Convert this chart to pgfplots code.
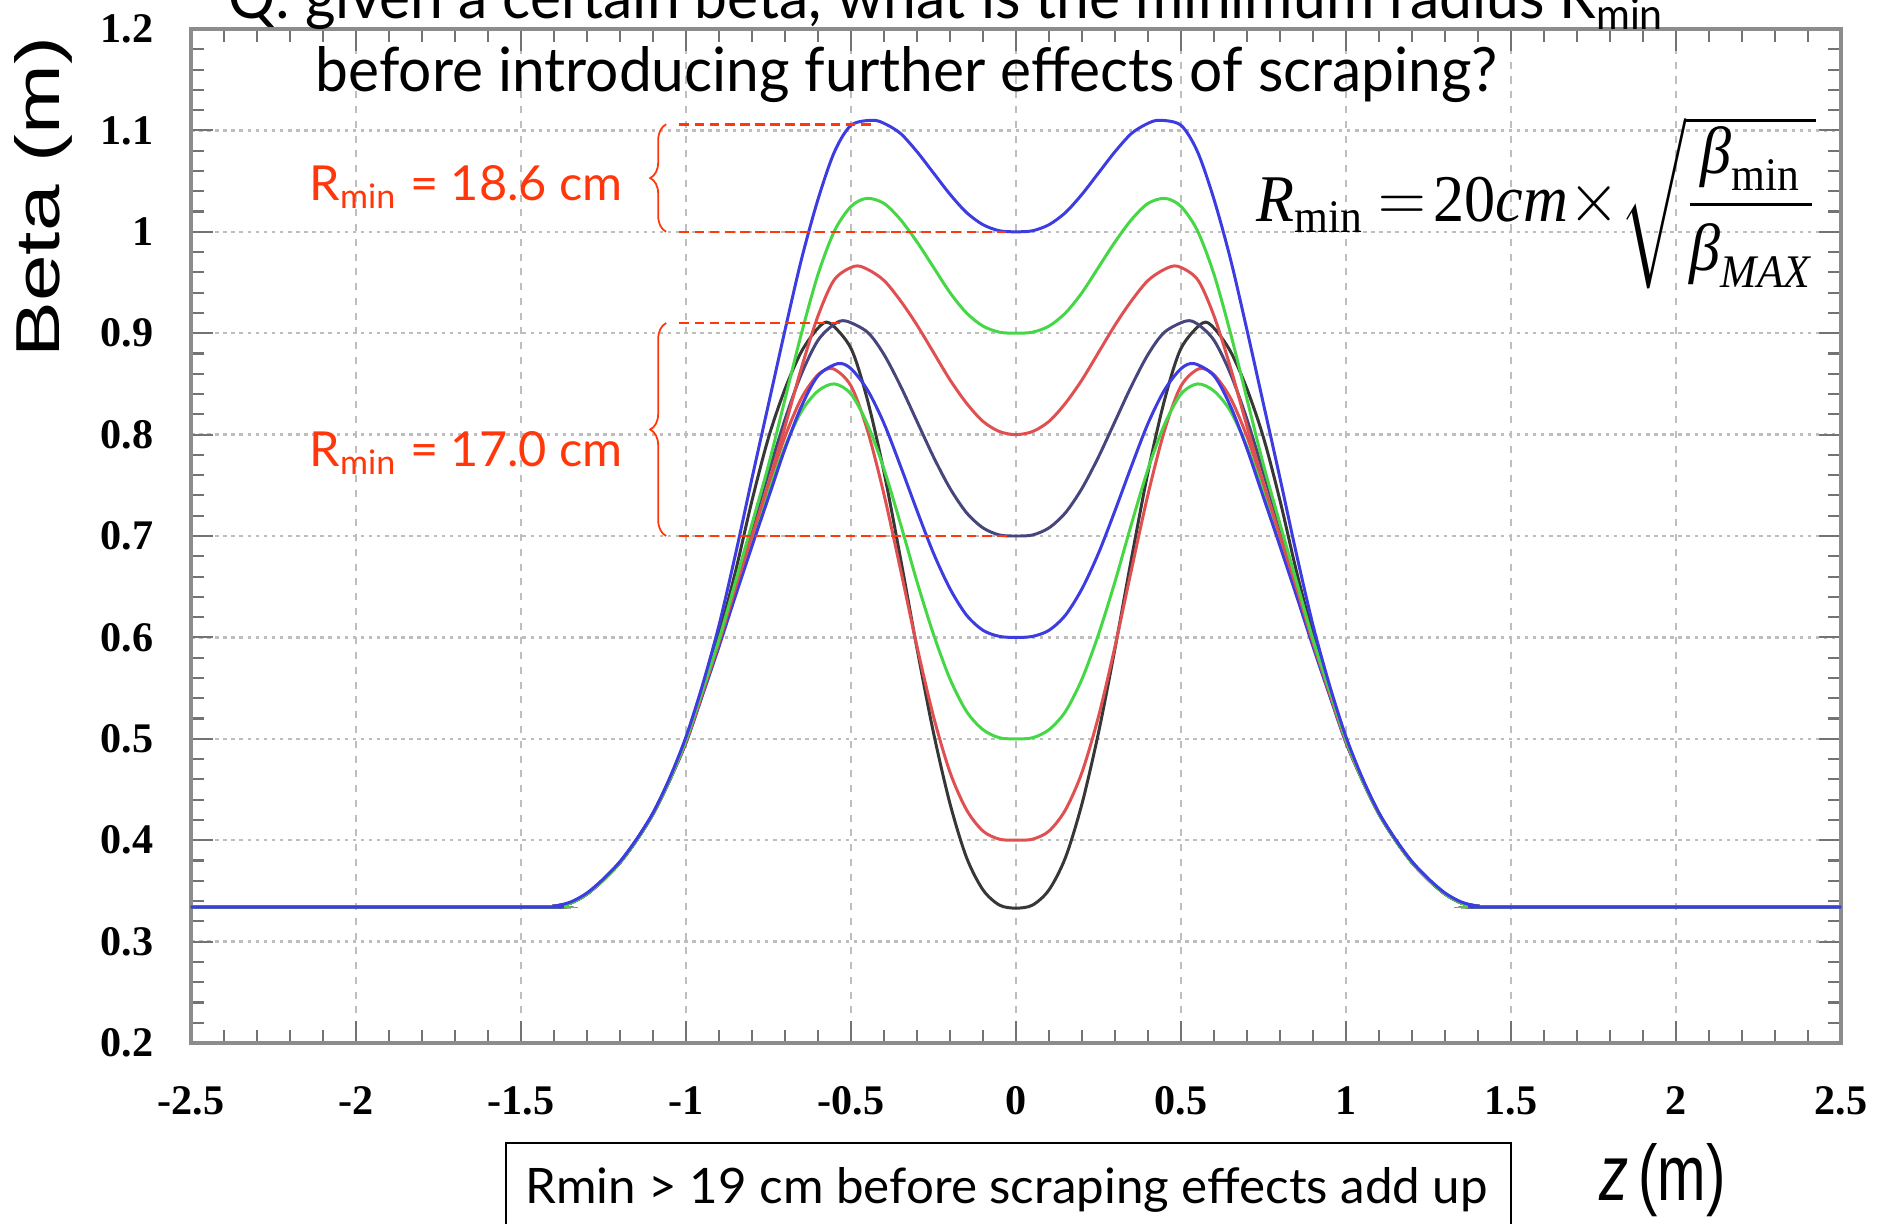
\documentclass[border=0pt]{standalone}
\usepackage{fontspec}
\usepackage{amsmath}
\usepackage{graphicx}
\usepackage{pgfplots}
\pgfplotsset{compat=1.18}
\usetikzlibrary{decorations.pathreplacing}
\setmainfont{Lato}
\newfontfamily\tms{Liberation Serif}
\newfontfamily\hel{Liberation Sans}
\definecolor{cb}{RGB}{60,60,225}
\definecolor{cg}{RGB}{70,215,70}
\definecolor{cr}{RGB}{225,80,80}
\definecolor{cn}{RGB}{70,70,125}
\definecolor{ck}{RGB}{55,55,55}
\definecolor{ann}{RGB}{255,55,10}
\definecolor{gridc}{RGB}{190,190,190}
\begin{document}
\begin{tikzpicture}
\useasboundingbox (-1.91,-1.80) rectangle (16.94,10.43);
\clip (-1.91,-1.80) rectangle (16.94,10.43);
\begin{axis}[
  at={(0,0)}, anchor=south west, scale only axis,
  width=16.5cm, height=10.14cm,
  xmin=-2.5, xmax=2.5, ymin=0.2, ymax=1.2,
  xtick={-2.5,-2,-1.5,-1,-0.5,0,0.5,1,1.5,2,2.5},
  xticklabels={-2.5,-2,-1.5,-1,-0.5,0,0.5,1,1.5,2,2.5},
  ytick={0.2,0.3,0.4,0.5,0.6,0.7,0.8,0.9,1,1.1,1.2},
  yticklabels={0.2,0.3,0.4,0.5,0.6,0.7,0.8,0.9,1,1.1,1.2},
  minor x tick num=4, minor y tick num=4,
  major tick length=0.22cm, minor tick length=0.13cm,
  tick style={black!55, line width=0.6pt},
  axis line style={black!45, line width=1.3pt},
  tick label style={font=\tms\bfseries\fontsize{12}{12}\selectfont, text=black},
  xticklabel style={inner sep=0pt, anchor=north, yshift=-0.43cm},
  yticklabel style={inner sep=0pt, anchor=east, xshift=-0.37cm},
  xmajorgrids, ymajorgrids,
  x grid style={gridc, line width=0.6pt, dash pattern=on 2pt off 2.2pt},
  y grid style={gridc, line width=0.7pt, dash pattern=on 1pt off 1.3pt},
  every axis plot/.append style={smooth, no marks, line width=0.85pt},
]
% black (min 0.333)
\addplot[ck] coordinates {(-2.5,0.334)(-1.45,0.334)(-1.4,0.335)(-1.35,0.338)(-1.3,0.347)(-1.25,0.361)(-1.2,0.378)(-1.15,0.400)(-1.1,0.426)(-1.05,0.459)(-1,0.500)(-0.95,0.550)(-0.9,0.603)(-0.85,0.665)(-0.8,0.735)(-0.75,0.797)(-0.7,0.845)(-0.65,0.882)(-0.6,0.905)(-0.565,0.910)(-0.5,0.885)(-0.45,0.834)(-0.4,0.763)(-0.35,0.678)(-0.3,0.589)(-0.25,0.506)(-0.2,0.436)(-0.15,0.383)(-0.1,0.351)(-0.05,0.336)(0,0.333)(0.05,0.336)(0.1,0.351)(0.15,0.383)(0.2,0.436)(0.25,0.506)(0.3,0.589)(0.35,0.678)(0.4,0.763)(0.45,0.834)(0.5,0.885)(0.565,0.910)(0.6,0.905)(0.65,0.882)(0.7,0.845)(0.75,0.797)(0.8,0.735)(0.85,0.665)(0.9,0.603)(0.95,0.550)(1,0.500)(1.05,0.459)(1.1,0.426)(1.15,0.400)(1.2,0.378)(1.25,0.361)(1.3,0.347)(1.35,0.338)(1.4,0.335)(1.45,0.334)(2.5,0.334)};
% red (min 0.4)
\addplot[cr] coordinates {(-2.5,0.334)(-1.45,0.334)(-1.4,0.335)(-1.35,0.338)(-1.3,0.347)(-1.25,0.361)(-1.2,0.378)(-1.15,0.400)(-1.1,0.426)(-1.05,0.459)(-1,0.497)(-0.95,0.545)(-0.9,0.594)(-0.85,0.648)(-0.8,0.700)(-0.75,0.750)(-0.7,0.798)(-0.65,0.836)(-0.6,0.859)(-0.555,0.865)(-0.5,0.848)(-0.45,0.804)(-0.4,0.741)(-0.35,0.667)(-0.3,0.591)(-0.25,0.522)(-0.2,0.467)(-0.15,0.430)(-0.1,0.409)(-0.05,0.401)(0,0.400)(0.05,0.401)(0.1,0.409)(0.15,0.430)(0.2,0.467)(0.25,0.522)(0.3,0.591)(0.35,0.667)(0.4,0.741)(0.45,0.804)(0.5,0.848)(0.555,0.865)(0.6,0.859)(0.65,0.836)(0.7,0.798)(0.75,0.750)(0.8,0.700)(0.85,0.648)(0.9,0.594)(0.95,0.545)(1,0.497)(1.05,0.459)(1.1,0.426)(1.15,0.400)(1.2,0.378)(1.25,0.361)(1.3,0.347)(1.35,0.338)(1.4,0.335)(1.45,0.334)(2.5,0.334)};
% green (min 0.5)
\addplot[cg] coordinates {(-2.5,0.334)(-1.45,0.334)(-1.4,0.335)(-1.35,0.338)(-1.3,0.347)(-1.25,0.361)(-1.2,0.378)(-1.15,0.400)(-1.1,0.426)(-1.05,0.459)(-1,0.497)(-0.95,0.544)(-0.9,0.592)(-0.85,0.645)(-0.8,0.695)(-0.75,0.743)(-0.7,0.788)(-0.65,0.823)(-0.6,0.843)(-0.55,0.850)(-0.5,0.840)(-0.45,0.810)(-0.4,0.766)(-0.35,0.712)(-0.3,0.655)(-0.25,0.603)(-0.2,0.559)(-0.15,0.527)(-0.1,0.509)(-0.05,0.501)(0,0.500)(0.05,0.501)(0.1,0.509)(0.15,0.527)(0.2,0.559)(0.25,0.603)(0.3,0.655)(0.35,0.712)(0.4,0.766)(0.45,0.810)(0.5,0.840)(0.55,0.850)(0.6,0.843)(0.65,0.823)(0.7,0.788)(0.75,0.743)(0.8,0.695)(0.85,0.645)(0.9,0.592)(0.95,0.544)(1,0.497)(1.05,0.459)(1.1,0.426)(1.15,0.400)(1.2,0.378)(1.25,0.361)(1.3,0.347)(1.35,0.338)(1.4,0.335)(1.45,0.334)(2.5,0.334)};
% blue (min 0.6)
\addplot[cb] coordinates {(-2.5,0.334)(-1.45,0.334)(-1.4,0.335)(-1.35,0.338)(-1.3,0.347)(-1.25,0.361)(-1.2,0.378)(-1.15,0.400)(-1.1,0.426)(-1.05,0.459)(-1,0.496)(-0.95,0.543)(-0.9,0.591)(-0.85,0.641)(-0.8,0.690)(-0.75,0.738)(-0.7,0.786)(-0.65,0.828)(-0.6,0.858)(-0.54,0.870)(-0.5,0.865)(-0.45,0.844)(-0.4,0.811)(-0.35,0.769)(-0.3,0.725)(-0.25,0.683)(-0.2,0.648)(-0.15,0.622)(-0.1,0.607)(-0.05,0.601)(0,0.600)(0.05,0.601)(0.1,0.607)(0.15,0.622)(0.2,0.648)(0.25,0.683)(0.3,0.725)(0.35,0.769)(0.4,0.811)(0.45,0.844)(0.5,0.865)(0.54,0.870)(0.6,0.858)(0.65,0.828)(0.7,0.786)(0.75,0.738)(0.8,0.690)(0.85,0.641)(0.9,0.591)(0.95,0.543)(1,0.496)(1.05,0.459)(1.1,0.426)(1.15,0.400)(1.2,0.378)(1.25,0.361)(1.3,0.347)(1.35,0.338)(1.4,0.335)(1.45,0.334)(2.5,0.334)};
% navy (min 0.7)
\addplot[cn] coordinates {(-2.5,0.334)(-1.45,0.334)(-1.4,0.335)(-1.35,0.338)(-1.3,0.347)(-1.25,0.361)(-1.2,0.378)(-1.15,0.400)(-1.1,0.426)(-1.05,0.459)(-1,0.499)(-0.95,0.548)(-0.9,0.596)(-0.85,0.652)(-0.8,0.708)(-0.75,0.762)(-0.7,0.815)(-0.65,0.860)(-0.6,0.893)(-0.55,0.909)(-0.515,0.912)(-0.45,0.901)(-0.4,0.879)(-0.35,0.848)(-0.3,0.813)(-0.25,0.778)(-0.2,0.747)(-0.15,0.723)(-0.1,0.708)(-0.05,0.701)(0,0.700)(0.05,0.701)(0.1,0.708)(0.15,0.723)(0.2,0.747)(0.25,0.778)(0.3,0.813)(0.35,0.848)(0.4,0.879)(0.45,0.901)(0.515,0.912)(0.55,0.909)(0.6,0.893)(0.65,0.860)(0.7,0.815)(0.75,0.762)(0.8,0.708)(0.85,0.652)(0.9,0.596)(0.95,0.548)(1,0.499)(1.05,0.459)(1.1,0.426)(1.15,0.400)(1.2,0.378)(1.25,0.361)(1.3,0.347)(1.35,0.338)(1.4,0.335)(1.45,0.334)(2.5,0.334)};
% red (min 0.8)
\addplot[cr] coordinates {(-2.5,0.334)(-1.45,0.334)(-1.4,0.335)(-1.35,0.338)(-1.3,0.347)(-1.25,0.361)(-1.2,0.378)(-1.15,0.400)(-1.1,0.426)(-1.05,0.459)(-1,0.497)(-0.95,0.545)(-0.9,0.595)(-0.85,0.649)(-0.8,0.700)(-0.75,0.752)(-0.7,0.808)(-0.65,0.866)(-0.6,0.917)(-0.55,0.953)(-0.49,0.966)(-0.45,0.963)(-0.4,0.952)(-0.35,0.932)(-0.3,0.908)(-0.25,0.881)(-0.2,0.854)(-0.15,0.831)(-0.1,0.813)(-0.05,0.803)(0,0.800)(0.05,0.803)(0.1,0.813)(0.15,0.831)(0.2,0.854)(0.25,0.881)(0.3,0.908)(0.35,0.932)(0.4,0.952)(0.45,0.963)(0.49,0.966)(0.55,0.953)(0.6,0.917)(0.65,0.866)(0.7,0.808)(0.75,0.752)(0.8,0.700)(0.85,0.649)(0.9,0.595)(0.95,0.545)(1,0.497)(1.05,0.459)(1.1,0.426)(1.15,0.400)(1.2,0.378)(1.25,0.361)(1.3,0.347)(1.35,0.338)(1.4,0.335)(1.45,0.334)(2.5,0.334)};
% green (min 0.9)
\addplot[cg] coordinates {(-2.5,0.334)(-1.45,0.334)(-1.4,0.335)(-1.35,0.338)(-1.3,0.347)(-1.25,0.361)(-1.2,0.378)(-1.15,0.400)(-1.1,0.426)(-1.05,0.459)(-1,0.499)(-0.95,0.548)(-0.9,0.598)(-0.85,0.655)(-0.8,0.712)(-0.75,0.770)(-0.7,0.835)(-0.65,0.900)(-0.6,0.958)(-0.55,1.001)(-0.5,1.025)(-0.452,1.033)(-0.4,1.028)(-0.35,1.012)(-0.3,0.990)(-0.25,0.965)(-0.2,0.940)(-0.15,0.920)(-0.1,0.907)(-0.05,0.901)(0,0.900)(0.05,0.901)(0.1,0.907)(0.15,0.920)(0.2,0.940)(0.25,0.965)(0.3,0.990)(0.35,1.012)(0.4,1.028)(0.452,1.033)(0.5,1.025)(0.55,1.001)(0.6,0.958)(0.65,0.900)(0.7,0.835)(0.75,0.770)(0.8,0.712)(0.85,0.655)(0.9,0.598)(0.95,0.548)(1,0.499)(1.05,0.459)(1.1,0.426)(1.15,0.400)(1.2,0.378)(1.25,0.361)(1.3,0.347)(1.35,0.338)(1.4,0.335)(1.45,0.334)(2.5,0.334)};
% blue (min 1.0)
\addplot[cb] coordinates {(-2.5,0.334)(-1.45,0.334)(-1.4,0.335)(-1.35,0.339)(-1.3,0.348)(-1.25,0.362)(-1.2,0.379)(-1.15,0.401)(-1.1,0.427)(-1.05,0.461)(-1,0.502)(-0.95,0.553)(-0.9,0.612)(-0.85,0.682)(-0.8,0.757)(-0.75,0.830)(-0.7,0.903)(-0.65,0.973)(-0.6,1.032)(-0.55,1.079)(-0.5,1.105)(-0.437,1.110)(-0.4,1.107)(-0.35,1.097)(-0.3,1.079)(-0.25,1.058)(-0.2,1.037)(-0.15,1.019)(-0.1,1.007)(-0.05,1.001)(0,1.000)(0.05,1.001)(0.1,1.007)(0.15,1.019)(0.2,1.037)(0.25,1.058)(0.3,1.079)(0.35,1.097)(0.4,1.107)(0.437,1.110)(0.5,1.105)(0.55,1.079)(0.6,1.032)(0.65,0.973)(0.7,0.903)(0.75,0.830)(0.8,0.757)(0.85,0.682)(0.9,0.612)(0.95,0.553)(1,0.502)(1.05,0.461)(1.1,0.427)(1.15,0.401)(1.2,0.379)(1.25,0.362)(1.3,0.348)(1.35,0.339)(1.4,0.335)(1.45,0.334)(2.5,0.334)};
% annotations
\draw[ann, line width=0.7pt, dash pattern=on 2.8pt off 1.5pt] (axis cs:-1.02,1.106) -- (axis cs:-0.43,1.106);
\draw[ann, line width=0.7pt, dash pattern=on 2.8pt off 1.5pt] (axis cs:-1.02,1.0) -- (axis cs:-0.03,1.0);
\draw[ann, line width=0.7pt, dash pattern=on 2.8pt off 1.5pt] (axis cs:-1.02,0.910) -- (axis cs:-0.53,0.910);
\draw[ann, line width=0.7pt, dash pattern=on 2.8pt off 1.5pt] (axis cs:-1.02,0.70) -- (axis cs:-0.02,0.70);
\draw[ann, line width=0.5pt, decorate, decoration={brace, amplitude=0.16cm}] (axis cs:-1.06,1.0) -- (axis cs:-1.06,1.106);
\draw[ann, line width=0.5pt, decorate, decoration={brace, amplitude=0.16cm}] (axis cs:-1.06,0.70) -- (axis cs:-1.06,0.910);
\end{axis}
% titles
\node[anchor=base west, inner sep=0] at (0.37,10.24) {\resizebox{14.37cm}{0.45cm}{Q: given a certain beta, what is the minimum radius R\textsubscript{min}}};
\node[anchor=base west, inner sep=0] at (1.24,9.51) {\resizebox{11.82cm}{0.45cm}{before introducing further effects of scraping?}};
% red labels
\node[anchor=base west, inner sep=0, text=ann] at (1.18,8.43) {\resizebox{3.13cm}{0.35cm}{R\textsubscript{min} = 18.6 cm}};
\node[anchor=base west, inner sep=0, text=ann] at (1.18,5.77) {\resizebox{3.13cm}{0.35cm}{R\textsubscript{min} = 17.0 cm}};
% formula
\node[anchor=base west, inner sep=0] at (10.65,8.21) {\resizebox{5.59cm}{1.06cm}{\fontsize{19.5}{23}\selectfont $\text{\tms\itshape R}_{\text{\tms min}}\mkern4mu{=}\mkern2mu\text{\tms 20\itshape cm}{\times}\sqrt{\dfrac{\text{\tms\itshape β}_{\text{\tms min}}}{\text{\tms\itshape β}_{\text{\tms\itshape MAX}}}}$}};
% bottom box
\draw[black, line width=0.8pt] (3.15,-2.5) -- (3.15,-1.00) -- (13.20,-1.00) -- (13.20,-2.5);
\node[anchor=base west, inner sep=0] at (3.34,-1.60) {\resizebox{9.62cm}{0.36cm}{Rmin > 19 cm before scraping effects add up}};
% axis labels
\node[anchor=base west, inner sep=0] at (14.08,-1.57) {\resizebox{1.26cm}{0.57cm}{\hel\textit{z}\,(m)}};
\node[rotate=90, anchor=base, inner sep=0] at (-1.31,8.46) {\resizebox{3.21cm}{0.45cm}{\hel Beta (m)}};
\end{tikzpicture}
\end{document}
